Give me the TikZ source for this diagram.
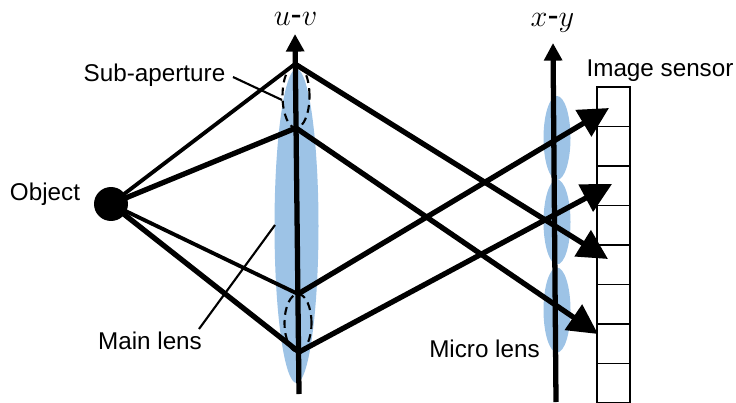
\documentclass[tikz,border=0pt]{standalone}
\usepackage{fontspec}
\setmainfont{Liberation Sans}
\usepackage{xcolor}
\usetikzlibrary{shapes.geometric, arrows.meta, positioning}
\definecolor{lensblue}{RGB}{157,195,230}

\begin{document}
\begin{tikzpicture}[
    x=0.02cm, y=-0.02cm,
    lens/.style={ellipse, fill=lensblue, inner sep=0pt},
    sub/.style={ellipse, draw, dash pattern=on 4.5pt off 3pt, line width=1.2pt, minimum width=0.54cm, inner sep=0pt},
    axis/.style={-{Triangle[length=10pt, width=10pt]}, line width=3pt},
    thinray/.style={line width=2.2pt},
    ray/.style={line width=3pt},
    beam/.style={-{Triangle[length=17pt, width=17pt]}, line width=3pt},
    cell/.style={rectangle, draw, line width=0.8pt, minimum width=0.66cm, minimum height=0.79cm, inner sep=0pt},
    leader/.style={line width=1.2pt},
    label/.style={font=\fontsize{13.8}{16}\selectfont, inner sep=0pt}
]
\path[use as bounding box] (0,0) rectangle (736,402);

% Lenses
\node[lens, minimum width=0.88cm, minimum height=6.28cm] (mainlens) at (296.5,226) {};
\node[lens, minimum width=0.54cm, minimum height=1.68cm] (micro1) at (557,138) {};
\node[lens, minimum width=0.54cm, minimum height=1.70cm] (micro2) at (557,222) {};
\node[lens, minimum width=0.54cm, minimum height=1.70cm] (micro3) at (557,310) {};

% Image sensor
\foreach \i in {0,...,7}
    \node[cell] (cell\i) at (613.5,{106.75+39.5*\i}) {};

% Sub-apertures
\node[sub, minimum height=1.28cm] (subtop) at (296,96) {};
\node[sub, minimum height=1.16cm] (subbot) at (298,323) {};

% Axes
\coordinate (uvbase) at (299,394);
\coordinate (uvtip) at (295,34);
\coordinate (xybase) at (556,402);
\coordinate (xytip) at (553,43);
\draw[axis] (uvbase) -- (uvtip);
\draw[axis] (xybase) -- (xytip);
\node[font=\fontsize{19}{22}\selectfont, inner sep=0pt] (uvlabel) at (295.5,19) {$u$-$v$};
\node[font=\fontsize{19}{22}\selectfont, inner sep=0pt] (xylabel) at (552.5,23) {$x$-$y$};

% Object
\node[circle, fill=black, minimum size=0.68cm, inner sep=0pt] (object) at (111,204) {};

% Rays
\coordinate (lensa) at (295,64);
\coordinate (lensb) at (296,128);
\coordinate (lensc) at (298,294);
\coordinate (lensd) at (299,352);
\coordinate (hita) at (608,259);
\coordinate (hitb) at (598,334);
\coordinate (hitc) at (609,108);
\coordinate (hitd) at (612,184);
\draw[thinray] (object.center) -- (lensa);
\draw[ray] (object.center) -- (lensb);
\draw[thinray] (object.center) -- (lensc);
\draw[ray] (object.center) -- (lensd);
\draw[beam] (lensa) -- (hita);
\draw[beam] (lensb) -- (hitb);
\draw[beam] (lensc) -- (hitc);
\draw[beam] (lensd) -- (hitd);

% Labels
\node[label] (objectlabel) at (45,194) {Object};
\node[label] (sublabel) at (154.5,75) {Sub-aperture};
\node[label] (mainlabel) at (150,341) {Main lens};
\node[label] (microlabel) at (484.5,349) {Micro lens};
\node[label] (sensorlabel) at (660,71) {Image sensor};

% Leader lines
\coordinate (subfrom) at (233,77);
\coordinate (subto) at (282,100);
\coordinate (mainfrom) at (199,329);
\coordinate (mainto) at (275,225);
\draw[leader] (subfrom) -- (subto);
\draw[leader] (mainfrom) -- (mainto);

\end{tikzpicture}
\end{document}
